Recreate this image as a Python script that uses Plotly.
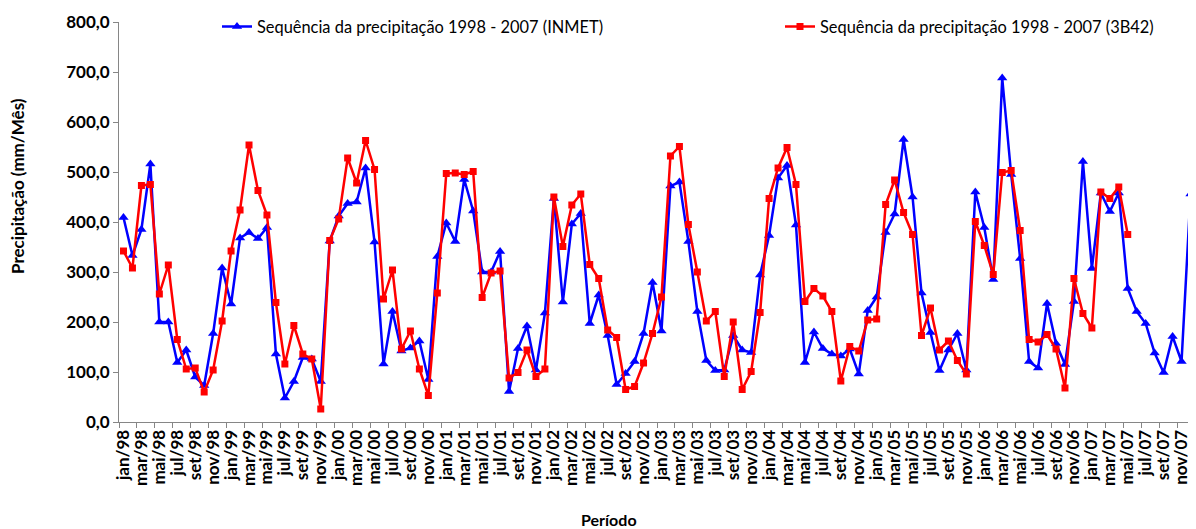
import plotly.graph_objects as go

months = ["jan", "fev", "mar", "abr", "mai", "jun", "jul", "ago", "set", "out", "nov", "dez"]
years = ["98", "99", "00", "01", "02", "03", "04", "05", "06", "07"]
periods = [f"{m}/{y}" for y in years for m in months]

inmet = [
    409, 333, 385, 516, 200, 200, 119, 144, 90, 73, 177, 308,
    236, 368, 379, 367, 389, 136, 48, 81, 129, 126, 81, 362,
    412, 437, 440, 508, 360, 116, 221, 142, 148, 162, 85, 331,
    398, 361, 485, 422, 300, 300, 341, 61, 147, 192, 104, 218,
    447, 240, 396, 417, 197, 254, 173, 75, 97, 121, 177, 279,
    182, 472, 480, 361, 221, 123, 103, 104, 173, 144, 139, 294,
    373, 488, 513, 394, 119, 180, 147, 136, 132, 146, 96, 223,
    250, 379, 416, 565, 450, 258, 179, 103, 144, 177, 104, 460,
    389, 285, 688, 495, 327, 121, 108, 237, 157, 115, 241, 521,
    307, 458, 421, 458, 267, 221, 197, 138, 99, 171, 121, 456,
]

trmm_3b42 = [
    342, 308, 473, 475, 256, 314, 165, 106, 108, 60, 104, 202,
    342, 424, 554, 463, 414, 239, 116, 193, 136, 126, 26, 363,
    406, 528, 478, 563, 505, 246, 304, 146, 182, 106, 53, 258,
    497, 498, 495, 501, 249, 298, 302, 88, 99, 144, 91, 106,
    450, 351, 434, 456, 315, 287, 184, 169, 65, 71, 118, 177,
    250, 532, 551, 395, 300, 202, 221, 91, 200, 65, 101, 219,
    447, 508, 549, 475, 241, 267, 252, 221, 82, 151, 142, 204,
    206, 435, 484, 419, 375, 173, 228, 144, 162, 123, 96, 401,
    353, 295, 499, 503, 383, 165, 160, 175, 146, 68, 287, 217,
    188, 460, 447, 470, 375,
]

name_inmet = "Sequência da precipitação 1998 - 2007 (INMET)"
name_3b42 = "Sequência da precipitação 1998 - 2007 (3B42)"

FONT = "Lato"
# page body has an 8px default margin, so the figure is drawn 8px smaller
OFF = 8
W, H = 1196 - OFF, 529 - OFF
PL, PR, PT, PB = 119, 1195, 17, 422  # plot area in page pixels
L, T = PL - OFF, PT - OFF
R = W - (PR - OFF)
B = H - (PB - OFF)
PW = PR - PL
PH = PB - PT


def px(x):
    return (x - PL) / PW


def py(y):
    return 1 - (y - PT) / PH


x_idx = list(range(len(periods)))

fig = go.Figure()
fig.add_trace(go.Scatter(
    x=x_idx, y=inmet, mode="lines+markers", name=name_inmet,
    line=dict(color="#0000FF", width=2.5),
    marker=dict(symbol="triangle-up", size=9, color="#0000FF"),
    legend="legend", cliponaxis=False,
))
fig.add_trace(go.Scatter(
    x=x_idx[:len(trmm_3b42)], y=trmm_3b42, mode="lines+markers", name=name_3b42,
    line=dict(color="#FF0000", width=2.5),
    marker=dict(symbol="square", size=7, color="#FF0000"),
    legend="legend2", cliponaxis=False,
))

tickvals = x_idx[::2]
ticktext = [periods[i] for i in tickvals]

fig.update_layout(
    width=W, height=H,
    margin=dict(l=L, r=R, t=T, b=B),
    plot_bgcolor="white", paper_bgcolor="white",
    separators=",.",
    font=dict(family=FONT, color="black"),
    showlegend=True,
    legend=dict(
        x=px(217), y=py(22), xref="paper", yref="paper",
        xanchor="left", yanchor="middle",
        orientation="h", bgcolor="rgba(0,0,0,0)",
        font=dict(family=FONT, size=16.4, color="black"),
        itemwidth=30,
    ),
    legend2=dict(
        x=px(780), y=py(22), xref="paper", yref="paper",
        xanchor="left", yanchor="middle",
        orientation="h", bgcolor="rgba(0,0,0,0)",
        font=dict(family=FONT, size=16.4, color="black"),
        itemwidth=30,
    ),
    xaxis=dict(
        range=[-0.5, len(periods) - 0.5], automargin=False,
        tickmode="array", tickvals=tickvals, ticktext=ticktext,
        tickangle=-90, ticks="",
        tickfont=dict(family=FONT, size=17, color="black", weight="bold"),
        showline=True, linecolor="#868686", linewidth=1,
        showgrid=False, zeroline=False,
        minor=dict(
            tickmode="array",
            tickvals=[i - 0.5 for i in range(0, len(periods) + 1, 2)],
            ticks="outside", ticklen=5, tickcolor="#868686", tickwidth=1,
            showgrid=False,
        ),
    ),
    yaxis=dict(
        range=[0, 800], dtick=100, tickformat=".1f", automargin=False,
        ticks="outside", ticklen=5, tickcolor="#868686",
        tickfont=dict(family=FONT, size=17, color="black", weight="bold"),
        showline=True, linecolor="#868686", linewidth=1,
        showgrid=False, zeroline=False,
    ),
)

fig.add_annotation(
    text="Precipitação (mm/Mês)", xref="paper", yref="paper",
    x=px(18), y=py(183), xanchor="center", yanchor="middle",
    textangle=-90, showarrow=False,
    font=dict(family=FONT, size=17, color="black", weight="bold"),
)
fig.add_annotation(
    text="Período", xref="paper", yref="paper",
    x=px(609), y=py(521), xanchor="center", yanchor="middle",
    showarrow=False, font=dict(family=FONT, size=16, color="black", weight="bold"),
)

fig.write_html("out.html")
